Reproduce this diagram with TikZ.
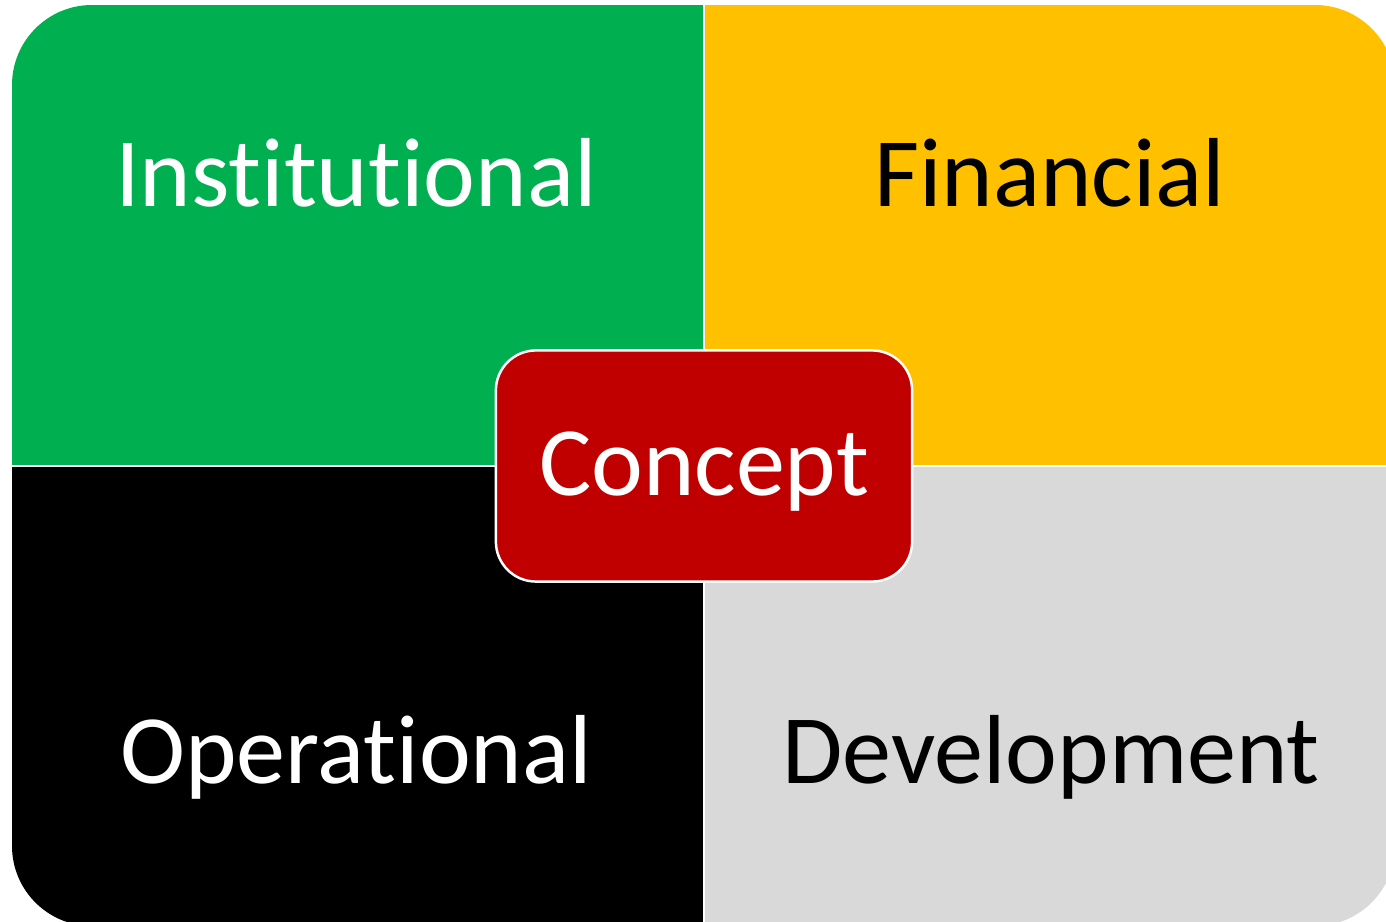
\documentclass[tikz,border=0pt]{standalone}
\usepackage{fontspec}
\setmainfont[Ligatures=NoCommon]{Carlito}
\usepackage{xcolor}
\definecolor{instgreen}{HTML}{00B050}
\definecolor{fingold}{HTML}{FFC000}
\definecolor{devgrey}{HTML}{D9D9D9}
\definecolor{conceptred}{HTML}{C00000}

\tikzset{
    quadtext/.style={anchor=base, inner sep=0pt, font=\fontsize{27.9}{34}\selectfont},
    hub/.style={draw=white, line width=0.7pt, fill=conceptred, rounded corners=0.4cm,
                minimum width=4.16cm, minimum height=2.31cm, inner sep=0pt},
}

\begin{document}
\begin{tikzpicture}[x=0.01cm,y=-0.01cm]
        \useasboundingbox (0,0) rectangle (1386,922);
        \begin{scope}
            \clip[rounded corners=0.8cm] (12,5) rectangle (1395,926);
            \fill[instgreen] (12,5)    rectangle (704,466);
            \fill[fingold]   (704,5)   rectangle (1395,466);
            \fill[black]     (12,466)  rectangle (704,926);
            \fill[devgrey]   (704,466) rectangle (1395,926);
            \draw[white, line width=0.6pt] (704,5) -- (704,926);
            \draw[white, line width=0.6pt] (12,466) -- (1395,466);
        \end{scope}
        \node[quadtext, text=white](I) at (356,207)  {Institutional};
        \node[quadtext, text=black](F) at (1050,207) {Financial};
        \node[quadtext, text=white](O) at (356,783)  {Operational};
        \node[quadtext, text=black](D) at (1051,783) {Development};
        \node[hub](C) at (704,466) {};
        \node[quadtext, text=white](Ct) at (704,495) {Concept};
    \end{tikzpicture}
\end{document}
